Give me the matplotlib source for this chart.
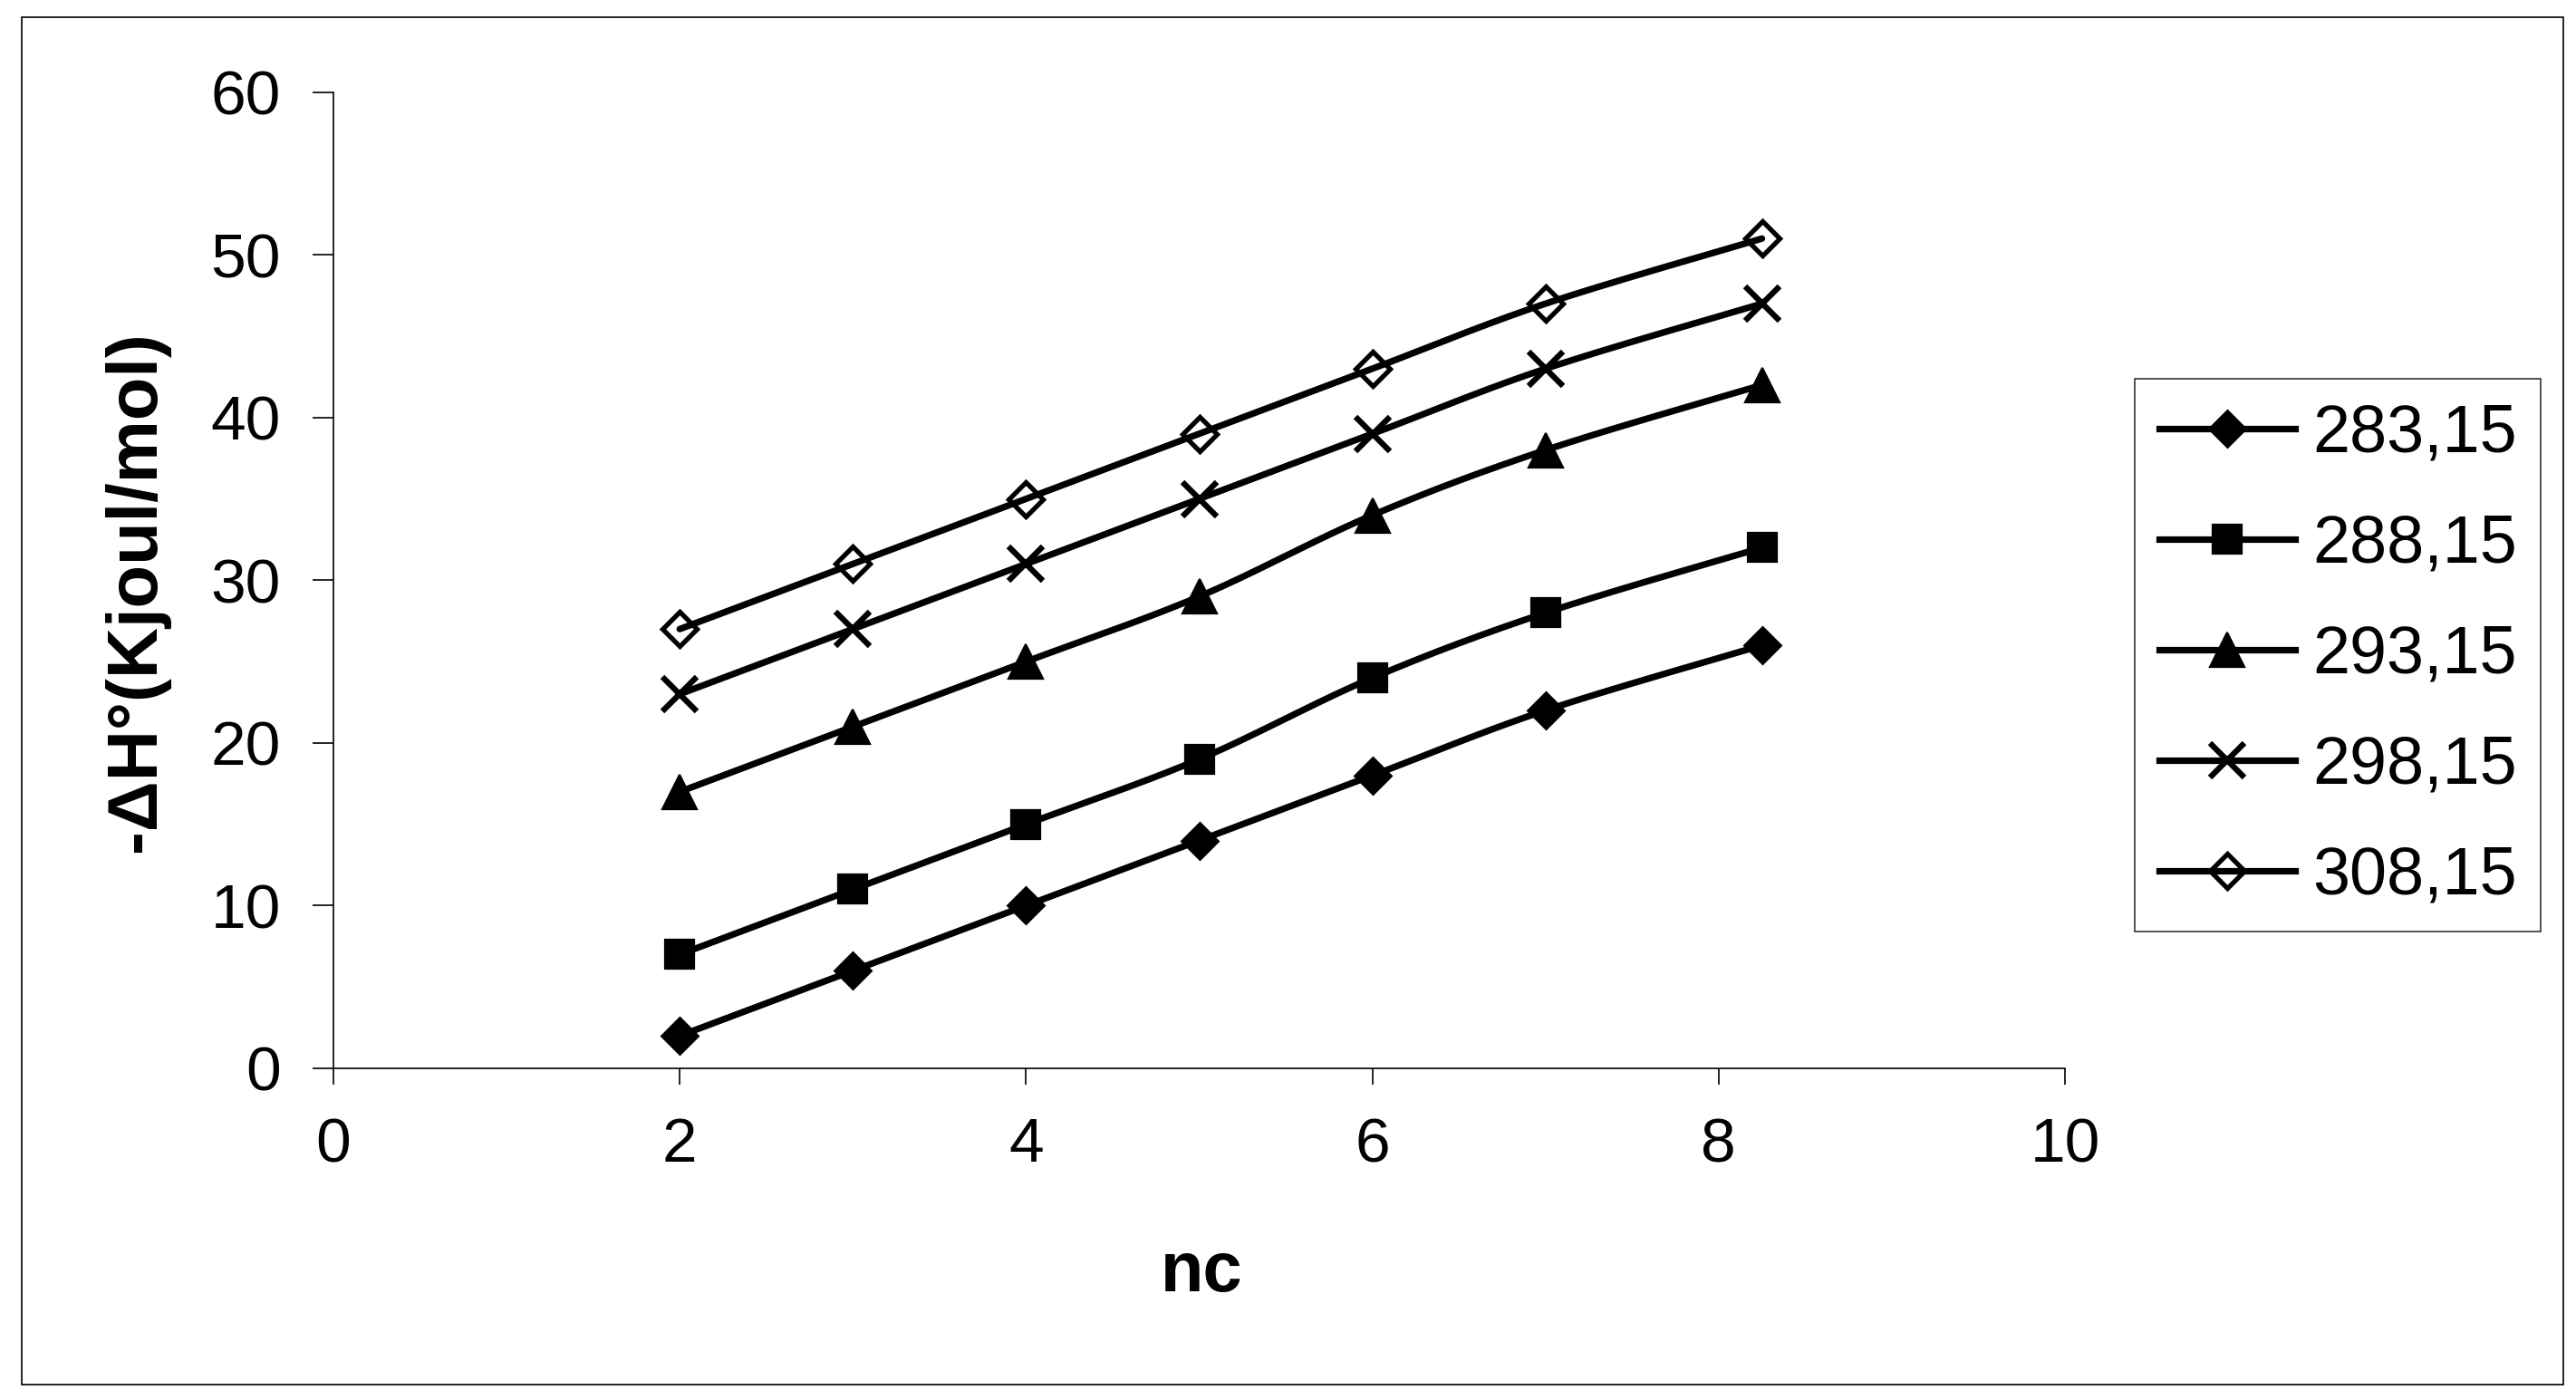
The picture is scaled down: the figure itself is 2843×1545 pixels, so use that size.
import numpy as np
import matplotlib
matplotlib.use("Agg")
import matplotlib.pyplot as plt
from matplotlib.lines import Line2D
from matplotlib.patches import Rectangle

# ---- data ----
nc = [2, 3, 4, 5, 6, 7, 8.25]
series_labels = ["283,15", "288,15", "293,15", "298,15", "308,15"]
dh_283 = [2, 6, 10, 14, 18, 22, 26]
dh_288 = [7, 11, 15, 19, 24, 28, 32]
dh_293 = [17, 21, 25, 29, 34, 38, 42]
dh_298 = [23, 27, 31, 35, 39, 43, 47]
dh_308 = [27, 31, 35, 39, 43, 47, 51]
x_ticks = [0, 2, 4, 6, 8, 10]
y_ticks = [0, 10, 20, 30, 40, 50, 60]

plt.rcParams['font.family'] = ['Liberation Sans', 'DejaVu Sans']

W, H, DPI = 2843, 1545, 200
fig = plt.figure(figsize=(W / DPI, H / DPI), dpi=DPI)

# axes placement (pixels from reference)
ax_l, ax_r, ax_b, ax_t = 368, 2279, 1179, 101.7
ax = fig.add_axes([ax_l / W, 1 - ax_b / H, (ax_r - ax_l) / W, (ax_b - ax_t) / H])
ax.set_xlim(0, 10)
ax.set_ylim(0, 60)
ax.set_xticks(x_ticks)
ax.set_yticks(y_ticks)
for s in ("top", "right"):
    ax.spines[s].set_visible(False)
for s in ("left", "bottom"):
    ax.spines[s].set_linewidth(0.6)
ax.tick_params(axis="x", direction="out", length=6.5, width=0.6, pad=12.6, labelsize=25)
ax.tick_params(axis="y", direction="out", length=8.3, width=0.6, pad=12.6, labelsize=25)
ax.patch.set_visible(False)


def smooth(x, y, n=40):
    """Excel-style smoothed line: cubic Bezier through the data points."""
    P = np.column_stack([x, y]).astype(float)
    ext = np.vstack([P[0], P, P[-1]])
    t = np.linspace(0, 1, n)[:, None]
    out = []
    for i in range(len(P) - 1):
        p0, p1, p2, p3 = ext[i], ext[i + 1], ext[i + 2], ext[i + 3]
        c1 = p1 + (p2 - p0) / 6.0
        c2 = p2 - (p3 - p1) / 6.0
        seg = (1 - t) ** 3 * p1 + 3 * (1 - t) ** 2 * t * c1 + 3 * (1 - t) * t ** 2 * c2 + t ** 3 * p2
        out.append(seg if i == 0 else seg[1:])
    return np.vstack(out)


LW = 2.6
styles = [
    dict(marker="D", ms=10.0, mfc="black", mec="black", mew=1.0),
    dict(marker="s", ms=11.5, mfc="black", mec="black", mew=0.8),
    dict(marker="^", ms=14.0, mfc="black", mec="black", mew=0.8),
    dict(marker="x", ms=13.5, mfc="none", mec="black", mew=2.3),
    dict(marker="D", ms=9.6, mfc="none", mec="black", mew=1.9),
]
data = [dh_283, dh_288, dh_293, dh_298, dh_308]

handles = []
for yv, st, lab in zip(data, styles, series_labels):
    c = smooth(nc, yv)
    ax.plot(c[:, 0], c[:, 1], color="black", lw=LW, solid_capstyle="round", zorder=2)
    ax.plot(nc, yv, linestyle="none", zorder=3, **st)
    handles.append(Line2D([], [], color="black", lw=LW, label=lab, **st))

leg = fig.legend(handles=handles, loc="upper left",
                 bbox_to_anchor=(2356 / W, 1 - 418 / H), bbox_transform=fig.transFigure,
                 borderaxespad=0, fontsize=26.5, frameon=True, fancybox=False,
                 handlelength=2.05, handletextpad=0.25, labelspacing=0.72,
                 borderpad=0.36, numpoints=1)
leg.get_frame().set_edgecolor("black")
leg.get_frame().set_linewidth(0.6)

# axis labels
fig.text(150 / W, 1 - 653 / H, "-ΔH°(Kjoul/mol)", rotation=90, ha="center", va="center",
         fontsize=28, fontweight="bold")
fig.text(1326 / W, 1 - 1405 / H, "nc", ha="center", va="center",
         fontsize=28, fontweight="bold")

# outer chart frame
fig.patches.append(Rectangle((24 / W, 1 - 1528 / H), (2829 - 24) / W, (1528 - 19) / H,
                             transform=fig.transFigure, fill=False, lw=0.6, ec="black"))

fig.savefig("out.png", dpi=DPI, facecolor="white")
